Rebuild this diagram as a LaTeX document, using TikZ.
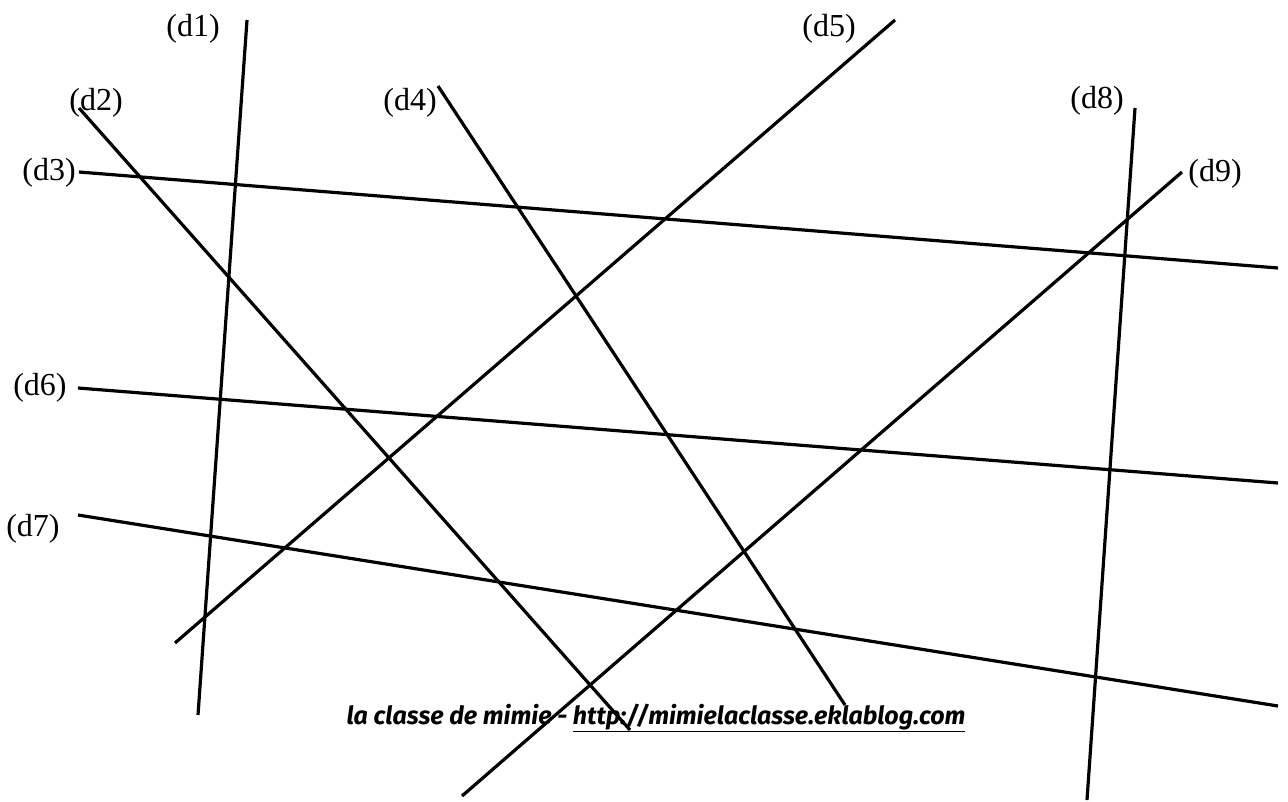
\documentclass[tikz,border=0pt]{standalone}
\usepackage{fontspec}
\setmainfont{Liberation Serif}
\newfontfamily\handfont{Fira Sans}
\tikzset{
  dline/.style={line width=3.2pt, line cap=butt},
  dlabel/.style={font=\fontsize{32}{32}\selectfont, inner sep=0pt},
  foot/.style={font=\handfont\bfseries\itshape\fontsize{25}{25}\selectfont, inner sep=0pt, anchor=base}
}
\begin{document}
\begin{tikzpicture}[x=1pt,y=-1pt]
\useasboundingbox (0,0) rectangle (1288,801);
% endpoints
\coordinate (a1) at (247,20);   \coordinate (b1) at (198,715);
\coordinate (a2) at (79,108);   \coordinate (b2) at (630,730);
\coordinate (a3) at (79,172);   \coordinate (b3) at (1278,268);
\coordinate (a4) at (438,86);   \coordinate (b4) at (845,705);
\coordinate (a5) at (895,20);   \coordinate (b5) at (175,643);
\coordinate (a6) at (78,388);   \coordinate (b6) at (1278,483);
\coordinate (a7) at (78,515);   \coordinate (b7) at (1278,706);
\coordinate (a8) at (1135,108); \coordinate (b8) at (1087,800);
\coordinate (a9) at (1182,172); \coordinate (b9) at (462,796);
\foreach \i in {1,...,9} { \draw[dline] (a\i) -- (b\i); }
% labels
\node[dlabel] (l1) at (193,29) {(d1)};
\node[dlabel] (l2) at (96,103) {(d2)};
\node[dlabel] (l3) at (49,173) {(d3)};
\node[dlabel] (l4) at (410,103) {(d4)};
\node[dlabel] (l5) at (829,29) {(d5)};
\node[dlabel] (l6) at (40,388) {(d6)};
\node[dlabel] (l7) at (33,529) {(d7)};
\node[dlabel] (l8) at (1097,101) {(d8)};
\node[dlabel] (l9) at (1215,174) {(d9)};
% footer
\node[foot] (ft) at (656,724) {la classe de mimie - \underline{http://mimielaclasse.eklablog.com}};
\end{tikzpicture}
\end{document}
